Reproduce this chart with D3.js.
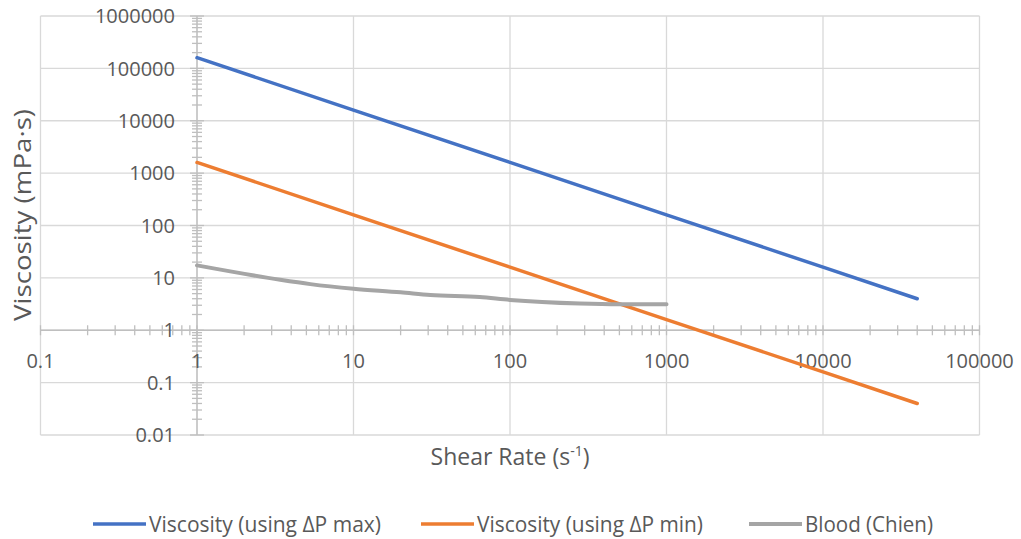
<!DOCTYPE html>
<html>
<head>
<meta charset="utf-8">
<script src="https://cdn.jsdelivr.net/npm/d3@7"></script>
<style>
  body { margin: 0; background: #fff; }
  svg { display: block; font-family: "Open Sans", sans-serif; }
</style>
</head>
<body>
<svg id="chart" width="1021" height="539"></svg>
<script>
// Viscosity vs shear rate (log-log)

// Data
const shearRates = [1, 10, 100, 1000, 10000, 40000];
const viscMax = [160000, 16000, 1600, 160, 16, 4];
const viscMin = [1600, 160, 16, 1.6, 0.16, 0.04];

const bloodRates = [1, 3.4, 5.3, 10, 20, 31, 64, 100, 280, 500, 1000];
const bloodVisc = [17.3, 9.2, 7.6, 6.2, 5.3, 4.7, 4.3, 3.8, 3.25, 3.15, 3.15];

const xTickValues = [0.1, 1, 10, 100, 1000, 10000, 100000];
const xTickLabels = ["0.1", "1", "10", "100", "1000", "10000", "100000"];
const yTickValues = [0.01, 0.1, 1, 10, 100, 1000, 10000, 100000, 1000000];
const yTickLabels = ["0.01", "0.1", "1", "10", "100", "1000", "10000", "100000", "1000000"];

const seriesNames = ["Viscosity (using ΔP max)", "Viscosity (using ΔP min)", "Blood (Chien)"];
const seriesColors = ["#4472C4", "#ED7D31", "#A5A5A5"];

// Layout
const plot = { left: 40.5, right: 979.5, top: 16, bottom: 435 };
const textColor = "#595959";
const gridColor = "#d9d9d9";
const axisColor = "#bfbfbf";

const svg = d3.select("#chart");

const x = d3.scaleLog().domain([0.1, 100000]).range([plot.left, plot.right]);
const y = d3.scaleLog().domain([0.01, 1000000]).range([plot.bottom, plot.top]);

// Gridlines
const grid = svg.append("g");
grid.selectAll(".vgrid")
    .data(xTickValues)
    .enter().append("line")
    .attr("x1", d => x(d)).attr("x2", d => x(d))
    .attr("y1", plot.top).attr("y2", plot.bottom)
    .attr("stroke", gridColor).attr("stroke-width", 1.3);
grid.selectAll(".hgrid")
    .data(yTickValues)
    .enter().append("line")
    .attr("x1", plot.left).attr("x2", plot.right)
    .attr("y1", d => y(d)).attr("y2", d => y(d))
    .attr("stroke", gridColor).attr("stroke-width", 1.3);

// Axes crossing at 1
const x0 = x(1), y0 = y(1);
const axes = svg.append("g").attr("stroke", axisColor).attr("stroke-width", 1.3);

axes.append("line")
    .attr("x1", plot.left).attr("x2", plot.right)
    .attr("y1", y0).attr("y2", y0);
axes.append("line")
    .attr("x1", x0).attr("x2", x0)
    .attr("y1", plot.top).attr("y2", plot.bottom);

// x ticks (major + minor, cross type)
const xAll = x.ticks();
axes.selectAll(".xtick")
    .data(xAll)
    .enter().append("line")
    .attr("x1", d => x(d)).attr("x2", d => x(d))
    .attr("y1", y0 - 5).attr("y2", y0 + 5);

// y ticks (major + minor, cross type)
const yAll = y.ticks();
const isMajor = v => Math.abs(Math.log10(v) - Math.round(Math.log10(v))) < 1e-9;
axes.selectAll(".ytick")
    .data(yAll)
    .enter().append("line")
    .attr("x1", d => x0 - (isMajor(d) ? 7 : 5))
    .attr("x2", d => x0 + (isMajor(d) ? 7 : 5))
    .attr("y1", d => y(d)).attr("y2", d => y(d));

// Tick labels
svg.append("g").selectAll("text")
    .data(xTickValues)
    .enter().append("text")
    .attr("x", d => x(d))
    .attr("y", 368)
    .attr("text-anchor", "middle")
    .attr("font-size", 20)
    .attr("fill", textColor)
    .text((d, i) => xTickLabels[i]);

svg.append("g").selectAll("text")
    .data(yTickValues)
    .enter().append("text")
    .attr("x", 175)
    .attr("y", d => y(d))
    .attr("dy", "0.36em")
    .attr("text-anchor", "end")
    .attr("font-size", 20)
    .attr("fill", textColor)
    .text((d, i) => yTickLabels[i]);

// Series
const line = d3.line()
    .x(d => x(d[0]))
    .y(d => y(d[1]));

const series = [
    shearRates.map((r, i) => [r, viscMax[i]]),
    shearRates.map((r, i) => [r, viscMin[i]]),
    bloodRates.map((r, i) => [r, bloodVisc[i]])
];

series.forEach((data, i) => {
    svg.append("path")
        .datum(data)
        .attr("fill", "none")
        .attr("stroke", seriesColors[i])
        .attr("stroke-width", i === 2 ? 4 : 3.5)
        .attr("stroke-linecap", "round")
        .attr("stroke-linejoin", "round")
        .attr("d", i === 2 ? line.curve(d3.curveMonotoneX)(data) : line.curve(d3.curveLinear)(data));
});

// Axis titles
const xTitle = svg.append("text")
    .attr("x", (plot.left + plot.right) / 2)
    .attr("y", 465)
    .attr("text-anchor", "middle")
    .attr("font-size", 23)
    .attr("fill", textColor);
xTitle.append("tspan").text("Shear Rate (s");
xTitle.append("tspan").attr("font-size", 14).attr("dy", -9).text("-1");
xTitle.append("tspan").attr("dy", 9).text(")");

svg.append("text")
    .attr("transform", "translate(31,215) rotate(-90)")
    .attr("text-anchor", "middle")
    .attr("font-size", 23)
    .attr("textLength", 212)
    .attr("lengthAdjust", "spacingAndGlyphs")
    .attr("fill", textColor)
    .text("Viscosity (mPa·s)");

// Legend
const legendX = [93, 421, 749];
const legendW = [232, 226, 128];
const legend = svg.append("g");
seriesNames.forEach((name, i) => {
    legend.append("line")
        .attr("x1", legendX[i]).attr("x2", legendX[i] + 53)
        .attr("y1", 524).attr("y2", 524)
        .attr("stroke", seriesColors[i])
        .attr("stroke-width", i === 2 ? 4 : 3.5);
    legend.append("text")
        .attr("x", legendX[i] + 56)
        .attr("y", 524)
        .attr("dy", "0.36em")
        .attr("font-size", 21)
        .attr("textLength", legendW[i])
        .attr("lengthAdjust", "spacingAndGlyphs")
        .attr("fill", textColor)
        .text(name);
});
</script>
</body>
</html>
